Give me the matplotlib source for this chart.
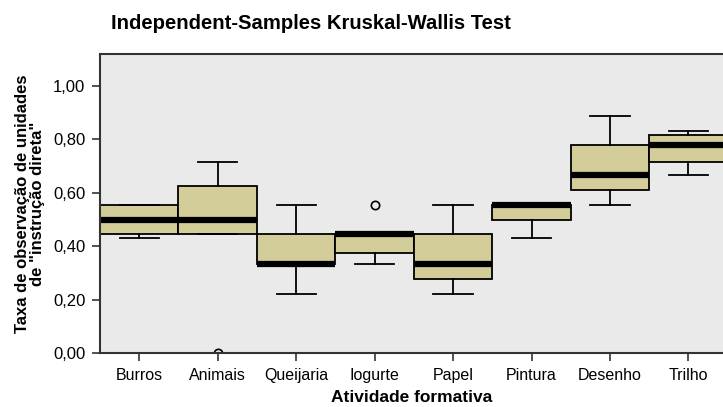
import matplotlib
matplotlib.use("Agg")
import matplotlib.pyplot as plt

plt.rcParams['font.family'] = ['Liberation Sans', 'DejaVu Sans']

# Box summary per group
groups = ['Burros', 'Animais', 'Queijaria', 'Iogurte', 'Papel', 'Pintura', 'Desenho', 'Trilho']
whis_lo = [0.429, 0.444, 0.222, 0.333, 0.222, 0.429, 0.556, 0.667]
q1 = [0.444, 0.444, 0.333, 0.375, 0.278, 0.500, 0.611, 0.714]
medians = [0.500, 0.500, 0.333, 0.444, 0.333, 0.556, 0.667, 0.778]
q3 = [0.556, 0.625, 0.444, 0.444, 0.444, 0.556, 0.778, 0.818]
whis_hi = [0.556, 0.714, 0.556, 0.444, 0.556, 0.556, 0.889, 0.833]
outliers = [[], [0.0], [], [0.556], [], [], [], []]

yticks = [0.0, 0.2, 0.4, 0.6, 0.8, 1.0]
ytick_labels = ['0,00', '0,20', '0,40', '0,60', '0,80', '1,00']

stats = []
for i, g in enumerate(groups):
    stats.append({'label': g, 'whislo': whis_lo[i], 'q1': q1[i], 'med': medians[i],
                  'q3': q3[i], 'whishi': whis_hi[i], 'fliers': outliers[i]})

fig = plt.figure(figsize=(7.23, 4.07), dpi=100)
ax = fig.add_axes([0.1383, 0.1327, 0.8617, 0.7346])
ax.set_facecolor('#EAEAEA')

ax.bxp(stats, positions=range(1, len(groups) + 1), widths=1.0, patch_artist=True,
       boxprops=dict(facecolor='#D3CD99', edgecolor='black', linewidth=1.3),
       medianprops=dict(color='black', linewidth=4.5, solid_capstyle='butt'),
       whiskerprops=dict(color='black', linewidth=1.3),
       capprops=dict(color='black', linewidth=1.3),
       capwidths=0.5,
       flierprops=dict(marker='o', markerfacecolor='none', markeredgecolor='black',
                       markersize=6, markeredgewidth=1.2))

ax.set_xlim(0.5, 8.44)
ax.set_ylim(0, 1.12)
ax.set_yticks(yticks)
ax.set_yticklabels(ytick_labels, fontsize=12)
ax.set_xticks(range(1, len(groups) + 1))
ax.set_xticklabels(groups, fontsize=11.5)
ax.tick_params(direction='out', length=6, width=1.2, color='#333333', pad=4.5)

for side in ['left', 'bottom', 'top']:
    ax.spines[side].set_color('#333333')
    ax.spines[side].set_linewidth(1.5)
ax.spines['right'].set_visible(False)

ax.set_xlabel('Atividade formativa', fontsize=12.5, fontweight='bold', labelpad=5)
ax.set_ylabel('Taxa de observação de unidades\nde "instrução direta"', fontsize=12,
              fontweight='bold', labelpad=6, linespacing=1.0)

fig.text(0.153, 0.943, 'Independent-Samples Kruskal-Wallis Test', fontsize=14.6,
         fontweight='bold', ha='left', va='center')

fig.savefig('out.png', dpi=100)
